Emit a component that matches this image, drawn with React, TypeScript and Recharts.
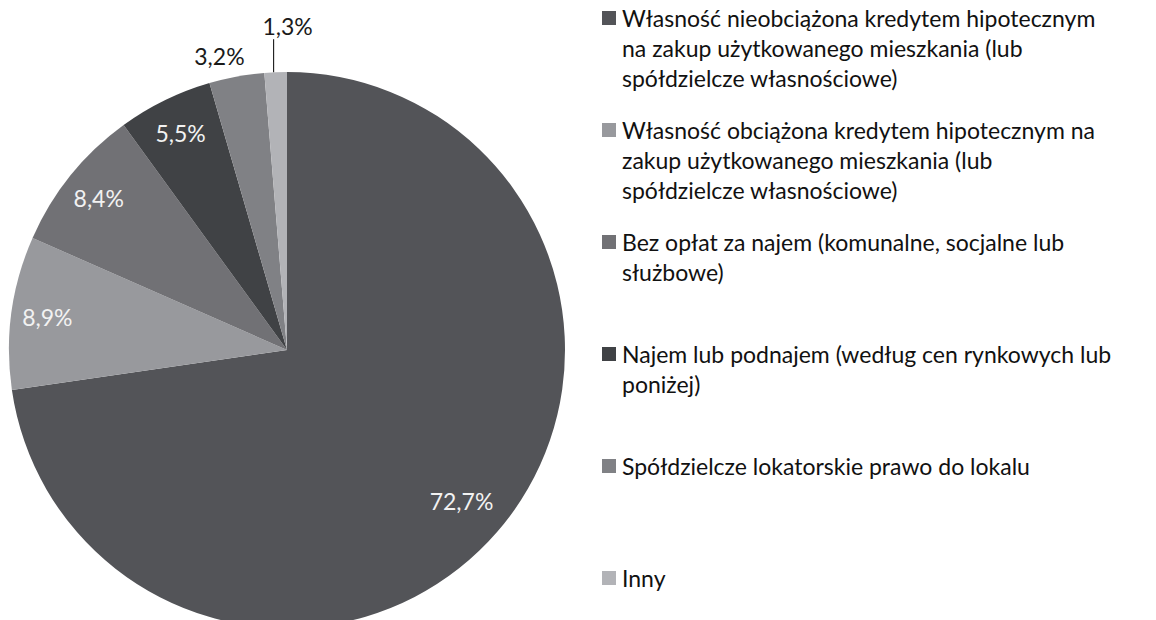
import { PieChart, Pie, Cell, Legend } from 'recharts'

const categories = [
  'Własność nieobciążona kredytem hipotecznym\nna zakup użytkowanego mieszkania (lub\nspółdzielcze własnościowe)',
  'Własność obciążona kredytem hipotecznym na\nzakup użytkowanego mieszkania (lub\nspółdzielcze własnościowe)',
  'Bez opłat za najem (komunalne, socjalne lub\nsłużbowe)',
  'Najem lub podnajem (według cen rynkowych lub\nponiżej)',
  'Spółdzielcze lokatorskie prawo do lokalu',
  'Inny',
]
const shares = [72.7, 8.9, 8.4, 5.5, 3.2, 1.3]
const colors = ['#535458', '#98999d', '#717175', '#404245', '#808185', '#b2b3b7']

const data = categories.map((name, i) => ({ name, value: shares[i] }))

const RAD = Math.PI / 180
const FONT = 'Lato, "Open Sans", sans-serif'

function fmt(v: number) {
  return v.toFixed(1).replace('.', ',') + '%'
}

function renderLabel(props: any) {
  const { cx, cy, midAngle, outerRadius, percent, value } = props
  const cos = Math.cos(-midAngle * RAD)
  const sin = Math.sin(-midAngle * RAD)
  if (percent < 0.02) {
    const x = cx + outerRadius * cos
    const y = cy + outerRadius * sin
    return (
      <g>
        <line x1={x - 2} y1={y} x2={x - 2} y2={y - 33} stroke="#000" strokeWidth={1} />
        <text x={x + 12} y={y - 46} fill="#1a1a1a" fontSize={23} fontFamily={FONT} textAnchor="middle" dominantBaseline="central">
          {fmt(value)}
        </text>
      </g>
    )
  }
  if (percent < 0.04) {
    const x = cx + outerRadius * cos
    const y = cy + outerRadius * sin
    return (
      <text x={x + 8} y={y - 21} fill="#1a1a1a" fontSize={23} fontFamily={FONT} textAnchor="end" dominantBaseline="central">
        {fmt(value)}
      </text>
    )
  }
  const r = outerRadius * (percent > 0.5 ? 0.83 : 0.87)
  return (
    <text x={cx + r * cos} y={cy + r * sin} fill="#f2f2f2" fontSize={23} fontFamily={FONT} textAnchor="middle" dominantBaseline="central">
      {fmt(value)}
    </text>
  )
}

function renderLegend() {
  return (
    <div style={{ fontFamily: FONT, fontSize: 23, color: '#111' }}>
      {data.map((d, i) => (
        <div key={i} style={{ height: 112, boxSizing: 'border-box', position: 'relative', paddingTop: 3, lineHeight: '30px' }}>
          <span style={{ position: 'absolute', left: 0, top: 11, width: 14, height: 14, background: colors[i] }} />
          <div style={{ marginLeft: 20 }}>
            {d.name.split('\n').map((line, j) => (
              <div key={j} style={{ whiteSpace: 'nowrap' }}>{line}</div>
            ))}
          </div>
        </div>
      ))}
    </div>
  )
}

export default function App() {
  return (
    <div style={{ width: 1156, height: 620, background: '#fff', position: 'relative' }}>
      <style>{`body { margin: 0; }`}</style>
      <PieChart width={1156} height={620} margin={{ top: 0, right: 0, bottom: 0, left: 0 }}>
        <Pie
          data={data}
          dataKey="value"
          nameKey="name"
          cx={287}
          cy={350}
          outerRadius={278}
          startAngle={90}
          endAngle={-270}
          stroke="none"
          labelLine={false}
          label={renderLabel}
          isAnimationActive={false}
        >
          {data.map((_, i) => (
            <Cell key={i} fill={colors[i]} />
          ))}
        </Pie>
        <Legend
          layout="vertical"
          verticalAlign="top"
          align="right"
          content={renderLegend}
          wrapperStyle={{ left: 602, top: 0, width: 554 }}
        />
      </PieChart>
    </div>
  )
}
